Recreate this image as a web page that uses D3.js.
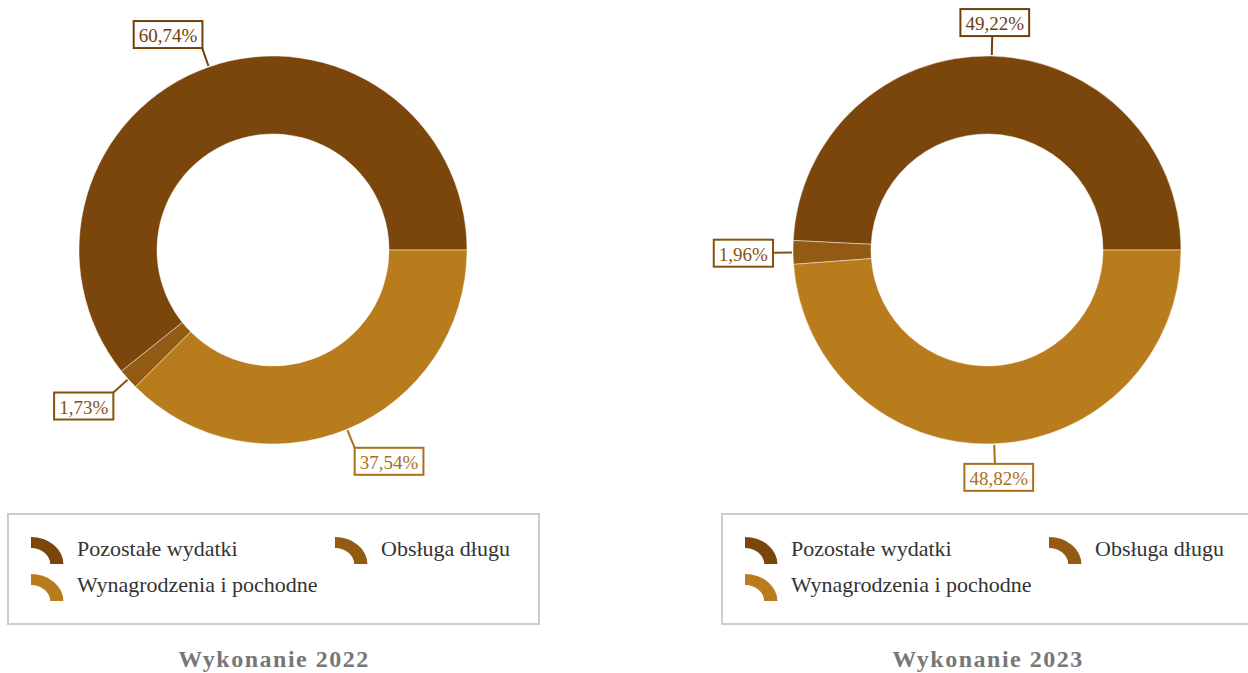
<!DOCTYPE html>
<html>
<head>
<meta charset="utf-8">
<script src="https://cdn.jsdelivr.net/npm/d3@7"></script>
<style>
  html, body { margin: 0; padding: 0; background: #fff; }
  svg { display: block; }
</style>
</head>
<body>
<svg id="chart" width="1248" height="673"></svg>
<script>
const categories = ["Pozostałe wydatki", "Obsługa długu", "Wynagrodzenia i pochodne"];
const colors = ["#7A460B", "#925A12", "#B87C1C"];
const years = ["Wykonanie 2022", "Wykonanie 2023"];
const values2022 = [60.74, 1.73, 37.54];
const values2023 = [49.22, 1.96, 48.82];
const seriesValues = [values2022, values2023];

const FONT = "'Liberation Serif', 'Times New Roman', Times, serif";
const svg = d3.select("#chart");
const centersX = [273, 987];
const cy = 250;
const R = 194, r0 = 116;

const fmt = v => v.toFixed(2).replace(".", ",") + "%";
const labelColor = c => d3.color(c).darker(0.25).formatHex();

const arc = d3.arc().innerRadius(r0).outerRadius(R);
const pie = d3.pie().sort(null).value(d => d.v)
  .startAngle(Math.PI / 2).endAngle(Math.PI / 2 - 2 * Math.PI);

seriesValues.forEach((vals, pi) => {
  const cx = centersX[pi];
  const g = svg.append("g").attr("transform", `translate(${cx},${cy})`);
  const data = vals.map((v, i) => ({ v, i }));
  const arcs = pie(data);

  g.selectAll("path.slice").data(arcs).join("path")
    .attr("class", "slice")
    .attr("d", arc)
    .attr("fill", d => colors[d.data.i])
    .attr("stroke", "rgba(255,255,255,0.45)")
    .attr("stroke-width", 1);

  arcs.forEach(d => {
    const a = (d.startAngle + d.endAngle) / 2;
    const s = Math.sin(a), c = -Math.cos(a);
    const x0 = s * (R + 1), y0 = c * (R + 1);
    const L = 20;
    const x1 = s * (R + L), y1 = c * (R + L);
    const col = labelColor(colors[d.data.i]);
    g.append("line")
      .attr("x1", x0).attr("y1", y0).attr("x2", x1).attr("y2", y1)
      .attr("stroke", col).attr("stroke-width", 2);
    const rect = g.append("rect");
    const t = g.append("text")
      .attr("font-family", FONT)
      .attr("font-size", 19)
      .attr("fill", col)
      .attr("text-anchor", "middle")
      .attr("dominant-baseline", "central")
      .text(fmt(d.data.v));
    const bb = t.node().getBBox();
    const bw = bb.width + 10, bh = 27;
    const kx = Math.max(-1, Math.min(1, s * 3));
    const ky = Math.max(-1, Math.min(1, c * 3));
    const bcx = x1 + kx * bw / 2, bcy = y1 + ky * bh / 2;
    rect.attr("x", bcx - bw / 2).attr("y", bcy - bh / 2)
      .attr("width", bw).attr("height", bh)
      .attr("fill", "#fff").attr("stroke", col).attr("stroke-width", 2);
    t.attr("x", bcx).attr("y", bcy + 1);
  });

  // legend
  const bx = cx - 265, by = 514;
  const lg = svg.append("g");
  lg.append("rect")
    .attr("x", bx).attr("y", by).attr("width", 531).attr("height", 110)
    .attr("fill", "#fff").attr("stroke", "#ccc").attr("stroke-width", 2);
  const iconArc = d3.arc().innerRadius(16).outerRadius(27).startAngle(0).endAngle(Math.PI / 2);
  const items = [
    { i: 0, ix: 23, tx: 69, y: 564, ty: 556 },
    { i: 1, ix: 327, tx: 373, y: 564, ty: 556 },
    { i: 2, ix: 23, tx: 69, y: 601, ty: 592 }
  ];
  items.forEach(it => {
    lg.append("path")
      .attr("d", iconArc())
      .attr("transform", `translate(${bx + it.ix},${it.y}) scale(1.2,1)`)
      .attr("fill", colors[it.i]);
    lg.append("text")
      .attr("x", bx + it.tx).attr("y", it.ty)
      .attr("font-family", FONT)
      .attr("font-size", 22).attr("fill", "#333")
      .text(categories[it.i]);
  });

  svg.append("text")
    .attr("x", cx + 1).attr("y", 667)
    .attr("text-anchor", "middle")
    .attr("font-family", FONT)
    .attr("font-size", 24).attr("font-weight", "bold")
    .attr("letter-spacing", 1.5)
    .attr("fill", "#777")
    .text(years[pi]);
});
</script>
</body>
</html>
